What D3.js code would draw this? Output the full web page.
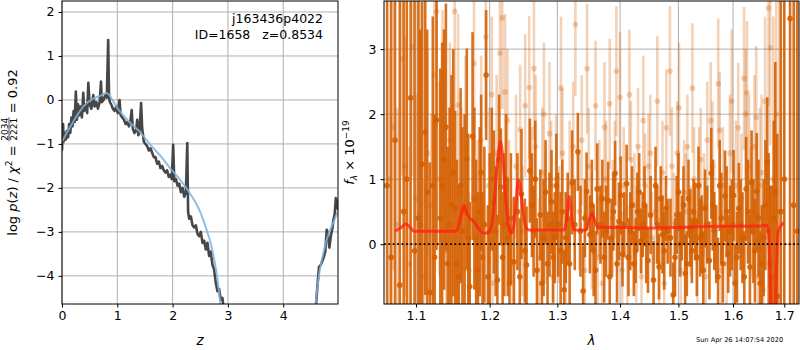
<!DOCTYPE html>
<html>
<head>
<meta charset="utf-8">
<script src="https://cdn.jsdelivr.net/npm/d3@7"></script>
<style>
body{margin:0;background:#fff}
svg{font-family:"DejaVu Sans",sans-serif}
.tick text{font-size:12.5px;fill:#000}
.lab{white-space:pre}
</style>
</head>
<body>
<svg id="chart" width="800" height="350"></svg>
<script>
// ---- left panel: redshift probability ----
const zTicks = [0,1,2,3,4];
const lnpTicks = [-4,-3,-2,-1,0,1,2];
// log p(z), noisy fit (z, value)
const pzFit = [
  [0.00,-1.15],[0.01,-0.75],[0.02,-0.55],[0.03,-0.95],[0.05,-0.75],[0.07,-0.9],[0.09,-0.7],[0.11,-0.85],
  [0.13,-0.55],[0.15,-0.75],[0.17,-0.4],[0.19,-0.6],[0.21,-0.25],[0.23,-0.5],[0.25,0.19],[0.27,-0.45],
  [0.29,-0.1],[0.31,-0.35],[0.33,-0.15],[0.36,-0.4],[0.385,0.16],[0.40,-0.25],[0.43,-0.1],[0.455,-0.3],
  [0.476,0.39],[0.50,-0.1],[0.53,-0.2],[0.566,0.11],[0.59,-0.15],[0.62,-0.05],[0.65,-0.2],[0.68,-0.05],
  [0.705,0.42],[0.72,-0.05],[0.75,0.0],[0.78,0.1],[0.81,0.05],[0.835,1.36],[0.85,0.08],[0.865,-0.05],
  [0.89,-0.1],[0.92,-0.2],[0.95,-0.25],[0.98,-0.15],[1.01,-0.3],[1.04,0.0],[1.06,-0.35],[1.09,-0.4],
  [1.12,-0.45],[1.15,-0.55],[1.18,-0.5],[1.21,-0.6],[1.235,-0.5],[1.26,-0.23],[1.28,-0.65],[1.31,-0.75],
  [1.34,-0.7],[1.36,-0.45],[1.38,-0.8],[1.40,-0.75],[1.43,-0.07],[1.45,-0.65],[1.48,-0.95],[1.51,-1.0],
  [1.54,-1.05],[1.57,-1.15],[1.60,-1.1],[1.63,-1.2],[1.66,-1.3],[1.69,-1.3],[1.72,-1.45],[1.75,-1.4],
  [1.78,-1.55],[1.81,-1.5],[1.84,-1.6],[1.87,-1.65],[1.90,-1.6],[1.93,-1.75],[1.96,-1.7],[1.985,-1.8],
  [2.01,-1.02],[2.03,-1.85],[2.06,-1.8],[2.09,-1.95],[2.12,-1.9],[2.15,-2.1],[2.18,-2.0],[2.21,-2.2],
  [2.24,-2.1],[2.265,-0.98],[2.28,-2.55],[2.30,-2.7],[2.33,-2.65],[2.36,-2.85],[2.39,-2.9],[2.42,-2.85],
  [2.45,-3.05],[2.48,-3.1],[2.51,-3.0],[2.54,-3.25],[2.57,-3.2],[2.60,-3.4],[2.63,-3.25],[2.66,-3.55],
  [2.69,-3.45],[2.72,-3.75],[2.75,-3.85],[2.78,-4.15],[2.81,-4.35],[2.84,-4.3],[2.87,-4.55],[2.90,-4.5],
  [2.93,-4.8]
];
const pzFitHigh = [
  [4.59,-4.7],[4.62,-4.2],[4.647,-3.79],[4.68,-3.75],[4.725,-3.6],[4.76,-3.45],[4.786,-2.95],[4.80,-3.0],
  [4.834,-3.36],[4.86,-3.1],[4.89,-2.9],[4.906,-2.73],[4.93,-2.6],[4.95,-2.23],[4.97,-2.3],[4.99,-2.5]
];
// smoothed prior-weighted curve
const pzSmooth = [
  [0,-0.95],[0.1,-0.72],[0.2,-0.5],[0.3,-0.3],[0.4,-0.13],[0.5,-0.02],[0.6,0.05],[0.7,0.1],[0.8,0.16],
  [0.85,0.12],[0.9,0.02],[1.0,-0.18],[1.1,-0.34],[1.2,-0.48],[1.3,-0.6],[1.4,-0.72],[1.5,-0.87],
  [1.6,-1.02],[1.7,-1.16],[1.8,-1.3],[1.9,-1.46],[2.0,-1.62],[2.1,-1.76],[2.2,-1.92],[2.3,-2.1],
  [2.4,-2.3],[2.5,-2.55],[2.6,-2.9],[2.7,-3.32],[2.75,-3.62],[2.8,-3.98],[2.87,-4.7]
];
const pzSmoothHigh = [
  [4.58,-4.7],[4.65,-3.95],[4.7,-3.62],[4.75,-3.35],[4.8,-3.12],[4.85,-2.95],[4.9,-2.8],[4.95,-2.65],[4.99,-2.52]
];

// ---- right panel: spectrum ----
const lamTicks = [1.1,1.2,1.3,1.4,1.5,1.6,1.7];
const fluxTicks = [0,1,2,3];
// [lambda, flux, err] - faint (second orientation) spectrum
const specLight = [
  [1.066,1.0,2.0],[1.071,1.8,2.2],[1.076,0.3,1.8],[1.0817,2.85,1.8],[1.086,1.2,2.0],[1.091,-0.3,1.8],
  [1.095,3.04,2.0],[1.100,0.7,1.6],[1.105,2.0,1.8],[1.110,-0.5,1.5],[1.115,1.4,1.6],[1.120,0.6,1.4],
  [1.124,2.6,1.7],[1.127,3.58,1.8],[1.131,1.0,1.5],[1.135,2.1,1.5],[1.140,-0.1,1.4],[1.145,1.6,1.5],
  [1.1515,3.58,1.6],[1.156,2.14,1.4],[1.161,0.8,1.3],[1.166,1.5,1.4],[1.171,-0.4,1.2],[1.178,2.78,1.4],
  [1.183,0.4,1.2],[1.188,1.6,1.3],[1.1945,3.19,1.4],[1.199,0.9,1.2],[1.204,-0.6,1.1],[1.210,1.4,1.2],
  [1.2146,2.94,1.3],[1.218,3.48,1.4],[1.222,2.34,1.2],[1.228,0.5,1.1],[1.233,-0.3,1.0],[1.238,1.2,1.1],
  [1.244,1.76,1.0],[1.2515,2.13,1.1],[1.2575,2.41,1.1],[1.262,0.8,1.0],[1.267,1.5,1.1],[1.272,-0.2,0.9],
  [1.277,1.1,1.0],[1.282,0.4,1.0],[1.288,1.7,1.1],[1.293,-0.5,0.9],[1.298,1.0,1.0],[1.303,0.3,0.9],
  [1.308,1.4,1.0],[1.313,-0.1,0.9],[1.319,0.9,1.0],[1.328,3.38,1.1],[1.334,0.5,0.9],[1.338,1.6,1.0],
  [1.343,-0.4,0.9],[1.349,1.2,0.9],[1.354,0.2,0.9],[1.360,2.13,1.0],[1.366,0.7,0.9],[1.371,-0.6,0.8],
  [1.377,1.0,0.9],[1.383,2.16,1.0],[1.388,0.4,0.9],[1.394,2.66,1.0],[1.400,2.26,1.0],[1.406,0.9,0.9],
  [1.412,-0.2,0.8],[1.418,1.3,0.9],[1.424,0.6,0.8],[1.430,1.5,0.9],[1.436,-0.5,0.8],[1.442,0.9,0.8],
  [1.448,1.2,0.8],[1.454,0.1,0.7],[1.460,0.5,0.8],[1.466,-0.3,0.7],[1.472,1.1,0.8],[1.4786,1.79,0.9],
  [1.485,2.66,1.0],[1.492,0.3,0.8],[1.498,1.4,0.8],[1.504,-0.4,0.7],[1.510,0.8,0.8],[1.516,1.5,0.8],
  [1.522,0.2,0.7],[1.528,1.0,0.8],[1.534,-0.2,0.7],[1.540,1.3,0.8],[1.546,0.6,0.8],[1.552,1.6,0.9],
  [1.5583,1.9,0.9],[1.565,0.5,0.8],[1.5723,2.47,1.0],[1.5750,1.75,0.9],[1.581,0.9,0.9],[1.588,-0.3,0.8],
  [1.594,1.4,0.9],[1.601,0.3,0.9],[1.610,1.79,1.0],[1.616,0.7,1.0],[1.621,2.55,1.1],[1.6241,2.0,1.0],
  [1.6267,2.33,1.1],[1.634,0.5,1.0],[1.641,1.5,1.1],[1.648,-0.5,1.0],[1.655,1.1,1.2],[1.662,2.2,1.3],
  [1.6687,3.63,1.5],[1.6719,3.02,1.5],[1.678,1.0,2.5],[1.684,2.0,4.0],[1.690,0.5,5.0],
  [1.203,2.3,1.2],[1.2255,1.9,1.1],[1.2475,0.2,1.0],[1.2645,2.7,1.1],[1.2795,2.0,1.1],[1.2905,0.9,1.0],
  [1.3055,2.4,1.1],[1.3245,1.5,1.0],[1.3465,2.7,1.0],[1.3635,-0.2,0.9],[1.3745,1.8,1.0],[1.3915,1.0,0.9],
  [1.4035,-0.4,0.9],[1.4155,2.3,1.0],[1.427,0.0,0.9],[1.439,1.9,1.0],[1.451,1.4,0.9],[1.463,2.2,1.0],
  [1.475,-0.6,0.9],[1.4885,1.2,0.9],[1.501,2.1,1.0],[1.513,0.5,0.9],[1.525,2.4,1.0],[1.537,0.9,0.9],
  [1.549,-0.5,0.9],[1.5615,1.2,1.0],[1.578,-0.4,0.9],[1.5975,2.2,1.1],[1.6055,0.9,1.0],[1.6305,1.2,1.1],
  [1.6445,1.95,1.1],[1.6515,0.9,1.2],[1.6585,-0.7,1.2]
];
// [lambda, flux, err] - main spectrum
const specDark = [
  [1.063,0.9,6],[1.068,-0.2,6],[1.073,1.6,6],[1.079,-0.63,6],[1.084,0.5,5],[1.088,1.0,5],[1.093,2.25,5],
  [1.098,-0.1,5],[1.103,0.4,4],[1.108,1.23,2.5],[1.112,1.72,2.5],[1.118,-0.74,2.0],[1.122,0.9,2.6],
  [1.127,1.91,2.0],[1.132,0.4,2.3],[1.137,1.3,2.0],[1.142,-0.3,1.8],[1.147,0.6,2.0],[1.152,0.55,1.5],
  [1.157,-0.5,1.4],[1.162,0.2,1.6],[1.168,1.31,1.7],[1.172,-0.65,1.3],[1.176,1.66,1.6],[1.181,0.1,1.2],
  [1.186,0.5,1.3],[1.190,-0.2,1.0],[1.195,2.6,1.0],[1.200,0.2,1.2],[1.206,0.65,1.1],[1.211,-0.55,1.0],
  [1.216,0.88,0.9],[1.221,0.3,1.1],[1.226,0.1,0.9],[1.235,-0.27,1.0],[1.240,0.5,0.9],[1.246,0.77,1.0],
  [1.251,-0.1,0.8],[1.2535,-0.32,0.9],[1.2584,1.13,0.8],[1.264,0.2,0.7],[1.269,-0.4,0.8],[1.274,0.45,0.7],
  [1.279,0.1,0.9],[1.285,-0.3,0.8],[1.291,0.65,0.8],[1.296,0.1,0.7],[1.301,0.3,0.8],[1.305,-0.1,0.9],
  [1.3105,-0.7,0.6],[1.316,0.4,0.7],[1.3229,0.95,0.8],[1.3319,1.42,0.6],[1.3402,-0.72,0.7],[1.3457,0.81,0.6],
  [1.351,0.15,0.6],[1.357,-0.1,0.7],[1.3626,0.85,0.7],[1.368,0.3,0.6],[1.374,-0.2,0.7],[1.3805,0.67,0.6],
  [1.386,0.1,0.6],[1.3919,1.09,0.5],[1.398,0.35,0.6],[1.404,-0.15,0.5],[1.4109,0.93,0.6],[1.417,0.2,0.6],
  [1.423,-0.3,0.5],[1.429,0.5,0.6],[1.435,0.05,0.5],[1.441,0.6,0.6],[1.447,-0.25,0.5],[1.4566,-0.55,0.6],
  [1.463,0.3,0.6],[1.469,0.7,0.5],[1.475,-0.1,0.6],[1.481,0.2,0.5],[1.4908,-0.78,0.5],[1.497,0.45,0.6],
  [1.503,0.0,0.5],[1.509,0.6,0.6],[1.515,-0.3,0.5],[1.521,0.25,0.6],[1.527,0.5,0.5],[1.533,-0.2,0.6],
  [1.539,0.1,0.6],[1.5447,-0.4,0.6],[1.552,0.3,0.6],[1.5594,1.09,0.7],[1.565,0.2,0.6],[1.572,-0.5,0.6],
  [1.578,0.4,0.7],[1.5849,0.74,0.7],[1.591,-0.15,0.6],[1.598,0.3,0.7],[1.604,-0.6,0.6],[1.611,0.55,0.7],
  [1.618,0.1,0.7],[1.625,0.85,0.8],[1.6323,-0.35,0.8],[1.639,0.2,0.8],[1.6454,0.81,0.9],[1.652,-0.6,0.8],
  [1.659,0.1,0.9],[1.6661,1.26,1.0],[1.672,-0.3,1.2],[1.679,0.4,1.5],[1.686,-0.8,2.5],[1.693,0.5,5],
  [1.700,1.0,6],[1.7116,3.47,6],[1.719,0.6,6],[1.726,0.2,6],
  [1.1055,0.3,3],[1.1145,0.8,2.5],[1.1245,-0.2,2.2],[1.1345,0.9,2.2],[1.1395,1.8,1.9],[1.1445,0.3,1.8],
  [1.1495,1.1,1.9],[1.1545,-0.3,1.6],[1.1595,0.9,1.5],[1.165,0.5,1.5],[1.170,0.1,1.6],[1.1785,0.7,1.4],
  [1.1835,-0.4,1.2],[1.188,1.1,1.2],[1.1925,0.3,1.2],[1.1975,-0.5,1.1],[1.203,1.0,1.1],[1.2085,0.2,1.0],
  [1.2135,1.3,1.0],[1.2185,-0.2,1.0],[1.2235,1.0,1.0],[1.2285,-0.6,0.9],
  [1.2305,0.4,1.0],[1.2435,-0.5,0.9],[1.2615,0.6,0.8],[1.2665,1.0,0.9],[1.2765,-0.6,0.8],[1.282,0.8,0.8],
  [1.288,0.3,0.8],[1.2935,-0.2,0.7],[1.2985,0.9,0.8],[1.3075,0.5,0.8],[1.313,0.1,0.7],[1.319,-0.3,0.7],
  [1.327,0.3,0.7],[1.336,0.2,0.7],[1.343,0.4,0.6],[1.354,0.6,0.7],[1.360,-0.4,0.6],[1.371,0.7,0.6],
  [1.377,0.2,0.7],[1.383,-0.5,0.6],[1.389,0.5,0.6],[1.395,-0.3,0.6],[1.401,0.75,0.6],[1.407,0.3,0.5],
  [1.414,-0.2,0.6],[1.420,0.6,0.6],[1.426,-0.1,0.5],[1.432,0.8,0.6],[1.438,0.3,0.5],[1.444,0.0,0.6],
  [1.4515,0.45,0.6],[1.460,0.9,0.6],[1.466,-0.35,0.5],[1.472,0.15,0.6],[1.478,0.55,0.5],[1.486,0.1,0.6],
  [1.494,-0.2,0.6],[1.500,0.8,0.6],[1.506,0.25,0.5],[1.512,-0.45,0.6],[1.518,0.7,0.6],[1.524,-0.1,0.5],
  [1.530,0.35,0.6],[1.536,0.9,0.6],[1.542,0.15,0.6],[1.548,0.55,0.6],[1.556,-0.25,0.6],[1.562,0.6,0.7],
  [1.5685,0.0,0.6],[1.575,0.9,0.7],[1.581,-0.3,0.6],[1.588,0.5,0.7],[1.5945,0.2,0.7],[1.601,0.75,0.7],
  [1.6075,-0.2,0.7],[1.6145,0.3,0.7],[1.6215,-0.5,0.7],[1.6285,0.5,0.8],[1.6355,0.95,0.8],[1.642,-0.1,0.8],
  [1.649,0.4,0.9],[1.6555,-0.3,0.9],[1.6625,0.6,1.0],[1.669,0.2,1.2],[1.675,-0.5,1.4],[1.682,0.8,2.0]
];
// best-fit template
const modelLam  = [1.0735,1.080,1.0868,1.093,1.097,1.152,1.156,1.160,1.1642,1.168,1.172,1.177,1.182,1.187,1.192,1.198,1.203,1.207,1.211,1.2155,1.219,1.223,1.227,1.231,1.235,1.238,1.2417,1.245,1.249,1.253,1.257,1.311,1.315,1.3188,1.322,1.326,1.345,1.350,1.3546,1.359,1.364,1.370,1.450,1.550,1.650,1.665,1.6685,1.672,1.676,1.680,1.684,1.688,1.693,1.699];
const modelFlux = [0.205,0.25,0.31,0.25,0.2,0.2,0.25,0.45,0.6,0.48,0.4,0.36,0.28,0.2,0.17,0.18,0.3,0.7,1.25,1.58,1.3,0.7,0.3,0.17,0.3,0.65,0.99,0.8,0.45,0.25,0.22,0.22,0.45,0.73,0.45,0.22,0.22,0.38,0.48,0.35,0.25,0.26,0.25,0.27,0.28,0.29,0.2,-0.6,-2,-2,-0.5,0.2,0.28,0.33];

const svg = d3.select("#chart");
const L = {x0:62, x1:338, y0:1, y1:304};
const R = {x0:384, x1:799, y0:1, y1:304};

const xL = d3.scaleLinear().domain([0,4.99]).range([L.x0,L.x1]);
const yL = d3.scaleLinear().domain([-4.64,2.25]).range([L.y1,L.y0]);
const xR = d3.scaleLog().domain([1.0591,1.7298]).range([R.x0,R.x1]);
const yR = d3.scaleLinear().domain([-0.92,3.74]).range([R.y1,R.y0]);

const defs = svg.append("defs");
defs.append("clipPath").attr("id","clipL").append("rect")
  .attr("x",L.x0).attr("y",L.y0).attr("width",L.x1-L.x0).attr("height",L.y1-L.y0);
defs.append("clipPath").attr("id","clipR").append("rect")
  .attr("x",R.x0).attr("y",R.y0).attr("width",R.x1-R.x0).attr("height",R.y1-R.y0);

function grid(box, xs, xv, ys, yv){
  const g = svg.append("g").attr("stroke","#b0b0b0").attr("stroke-width",1);
  g.selectAll(".gx").data(xv).enter().append("line")
    .attr("x1",d=>xs(d)).attr("x2",d=>xs(d)).attr("y1",box.y0).attr("y2",box.y1);
  g.selectAll(".gy").data(yv).enter().append("line")
    .attr("x1",box.x0).attr("x2",box.x1).attr("y1",d=>ys(d)).attr("y2",d=>ys(d));
}
grid(L, xL, zTicks, yL, lnpTicks);
grid(R, xR, lamTicks, yR, fluxTicks);

// left lines
const lineL = d3.line().x(d=>xL(d[0])).y(d=>yL(d[1]));
const lineSmooth = d3.line().x(d=>xL(d[0])).y(d=>yL(d[1])).curve(d3.curveMonotoneX);
const pl = svg.append("g").attr("clip-path","url(#clipL)").attr("fill","none");
[pzFit, pzFitHigh].forEach(s=>{
  pl.append("path").datum(s).attr("d",lineL)
    .attr("stroke","#333").attr("stroke-opacity",0.9).attr("stroke-width",2.6).attr("stroke-linejoin","round");
});
[pzSmooth, pzSmoothHigh].forEach(s=>{
  pl.append("path").datum(s).attr("d",lineSmooth)
    .attr("stroke","#7fb1db").attr("stroke-opacity",0.85).attr("stroke-width",2);
});

// right errorbars
const orange = "rgb(212,94,0)";
const pr = svg.append("g").attr("clip-path","url(#clipR)");
function errorbars(data, op){
  const g = pr.append("g");
  g.selectAll("line").data(data).enter().append("line")
    .attr("x1",d=>xR(d[0])).attr("x2",d=>xR(d[0]))
    .attr("y1",d=>yR(d[1]-d[2])).attr("y2",d=>yR(d[1]+d[2]))
    .attr("stroke",orange).attr("stroke-width",2.6).attr("stroke-opacity",op);
  g.selectAll("circle").data(data).enter().append("circle")
    .attr("cx",d=>xR(d[0])).attr("cy",d=>yR(d[1])).attr("r",2.8)
    .attr("fill",orange).attr("fill-opacity",op);
}
errorbars(specLight, 0.28);
errorbars(specDark, 0.88);

const model = modelLam.map((l,i)=>[l, modelFlux[i]]);
pr.append("path").datum(model)
  .attr("d", d3.line().x(d=>xR(d[0])).y(d=>yR(d[1])).curve(d3.curveMonotoneX))
  .attr("fill","none").attr("stroke","#ff2010").attr("stroke-opacity",0.75).attr("stroke-width",3);
pr.append("line").attr("x1",R.x0).attr("x2",R.x1).attr("y1",yR(0)).attr("y2",yR(0))
  .attr("stroke","#000").attr("stroke-width",1.8).attr("stroke-dasharray","1.8,2.6");

// axes
function frame(box){
  svg.append("rect").attr("x",box.x0).attr("y",box.y0).attr("width",box.x1-box.x0).attr("height",box.y1-box.y0)
    .attr("fill","none").attr("stroke","#000").attr("stroke-width",1);
}
function styleAxis(g){
  g.select(".domain").remove();
  g.selectAll(".tick line").attr("stroke","#000");
  g.selectAll(".tick text").attr("font-family","DejaVu Sans");
}
svg.append("g").attr("transform",`translate(0,${L.y1})`)
  .call(d3.axisBottom(xL).tickValues(zTicks).tickFormat(d3.format("d")).tickSize(3.5).tickPadding(3.5)).call(styleAxis);
svg.append("g").attr("transform",`translate(${L.x0},0)`)
  .call(d3.axisLeft(yL).tickValues(lnpTicks).tickFormat(d3.format("d")).tickSize(3.5).tickPadding(4)).call(styleAxis);
svg.append("g").attr("transform",`translate(0,${R.y1})`)
  .call(d3.axisBottom(xR).tickValues(lamTicks).tickFormat(d3.format(".1f")).tickSize(3.5).tickPadding(3.5)).call(styleAxis);
svg.append("g").attr("transform",`translate(${R.x0},0)`)
  .call(d3.axisLeft(yR).tickValues(fluxTicks).tickFormat(d3.format("d")).tickSize(3.5).tickPadding(4)).call(styleAxis);
frame(L); frame(R);

// annotations
svg.append("text").attr("x",323).attr("y",23).attr("text-anchor","end").attr("font-size",12.5).text("j163436p4022");
svg.append("text").attr("class","lab").attr("x",323).attr("y",39).attr("text-anchor","end").attr("font-size",12.5).text("ID=1658   z=0.8534");

svg.append("text").attr("x",(L.x0+L.x1)/2).attr("y",345).attr("text-anchor","middle")
  .attr("font-size",13.5).attr("font-style","italic").text("z");
svg.append("text").attr("x",(R.x0+R.x1)/2).attr("y",345).attr("text-anchor","middle")
  .attr("font-size",13.5).attr("font-style","italic").text("λ");

svg.append("text").attr("x",696).attr("y",342).attr("font-size",6.6).text("Sun Apr 26 14:07:54 2020");

// left y label with stacked fraction
const yl = svg.append("g").attr("transform",`translate(17,${(L.y0+L.y1)/2}) rotate(-90)`);
const ylIn = yl.append("g");
const t1 = ylIn.append("text").attr("class","lab").attr("font-size",13);
t1.append("tspan").text("log ");
t1.append("tspan").attr("font-style","italic").text("p");
t1.append("tspan").text("(");
t1.append("tspan").attr("font-style","italic").text("z");
t1.append("tspan").text(") / ");
t1.append("tspan").attr("font-style","italic").text("χ");
t1.append("tspan").attr("font-size",9).attr("dy",-5).text("2");
t1.append("tspan").attr("dy",5).text(" = ");
const w1 = t1.node().getComputedTextLength();
const num = ylIn.append("text").attr("font-size",9).attr("y",-9.3).text("2034");
const den = ylIn.append("text").attr("font-size",9).attr("y",-0.3).text("2221");
const fw = Math.max(num.node().getComputedTextLength(), den.node().getComputedTextLength()) + 1;
num.attr("x", w1 + fw/2).attr("text-anchor","middle");
den.attr("x", w1 + fw/2).attr("text-anchor","middle");
ylIn.append("line").attr("x1",w1).attr("x2",w1+fw).attr("y1",-8).attr("y2",-8).attr("stroke","#000").attr("stroke-width",0.7);
const t2 = ylIn.append("text").attr("class","lab").attr("font-size",13).attr("x",w1+fw).text(" = 0.92");
const wTot = w1 + fw + t2.node().getComputedTextLength();
ylIn.attr("transform",`translate(${-wTot/2},0)`);

// right y label
const yr = svg.append("text").attr("class","lab").attr("font-size",13)
  .attr("transform",`translate(354,${(R.y0+R.y1)/2}) rotate(-90)`).attr("text-anchor","middle");
yr.append("tspan").attr("font-style","italic").text("f");
yr.append("tspan").attr("font-style","italic").attr("font-size",9).attr("dy",3).text("λ");
yr.append("tspan").attr("dy",-3).text(" × 10");
yr.append("tspan").attr("font-size",9).attr("dy",-5).text("−19");
</script>
</body>
</html>
